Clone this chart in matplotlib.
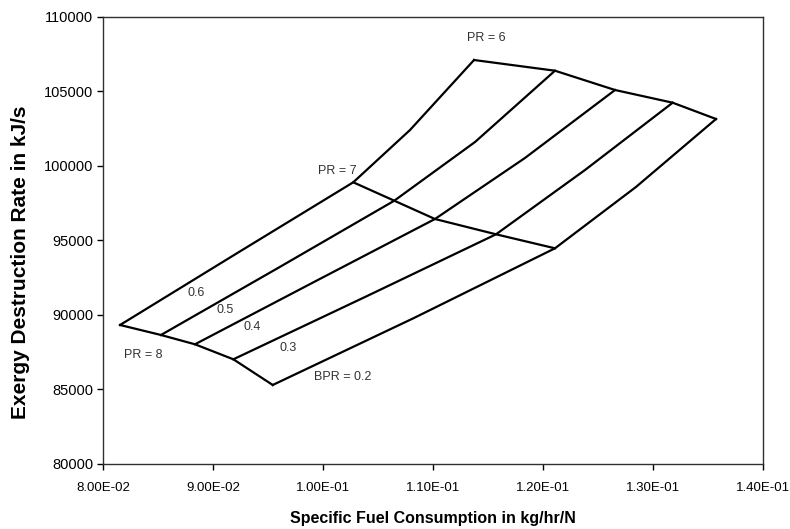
import matplotlib
matplotlib.use("Agg")
import matplotlib.pyplot as plt
from matplotlib.ticker import FuncFormatter, MultipleLocator

plt.rcParams['font.family'] = ['Liberation Sans', 'DejaVu Sans']

# Carpet plot: specific fuel consumption vs exergy destruction rate
bpr_values = [0.6, 0.5, 0.4, 0.3, 0.2]
pr_values = [8, 7.5, 7, 6.5, 6]

# SFC (kg/hr/N) for each BPR, ordered by pr_values
sfc = {
    0.6: [0.08155, 0.09214, 0.10275, 0.10791, 0.11373],
    0.5: [0.08527, 0.09591, 0.10648, 0.11382, 0.12109],
    0.4: [0.08836, 0.09927, 0.11018, 0.11836, 0.12655],
    0.3: [0.09185, 0.10382, 0.11573, 0.12382, 0.13179],
    0.2: [0.09543, 0.10827, 0.12109, 0.12845, 0.13573],
}
# Exergy destruction rate (kJ/s) for each BPR, ordered by pr_values
exd = {
    0.6: [89328, 94127, 98905, 102415, 107112],
    0.5: [88657, 93154, 97670, 101609, 106394],
    0.4: [88033, 92248, 96442, 100536, 105099],
    0.3: [87026, 91207, 95415, 99730, 104247],
    0.2: [85302, 89798, 94475, 98589, 103153],
}
pr_lines = [8, 7, 6]

labels = ["0.6", "0.5", "0.4", "0.3", "BPR = 0.2", "PR = 8", "PR = 7", "PR = 6"]
label_x = [0.08845, 0.09109, 0.09352, 0.09685, 0.10179, 0.08366, 0.10134, 0.11488]
label_y = [91456, 90335, 89214, 87765, 85818, 87315, 99683, 108610]

fig = plt.figure(figsize=(7.9, 5.29), dpi=100)
ax = fig.add_axes([0.1304, 0.1229, 0.8354, 0.845])

lw = 1.6
for b in bpr_values:
    ax.plot(sfc[b], exd[b], color='black', lw=lw, solid_joinstyle='round')

for p in pr_lines:
    i = pr_values.index(p)
    ax.plot([sfc[b][i] for b in bpr_values], [exd[b][i] for b in bpr_values],
            color='black', lw=lw, solid_joinstyle='round')

for t, x, y in zip(labels, label_x, label_y):
    ax.text(x, y, t, ha='center', va='center', fontsize=9, color='#333333')

ax.set_xlim(0.08, 0.14)
ax.set_ylim(80000, 110000)
ax.xaxis.set_major_locator(MultipleLocator(0.01))
ax.yaxis.set_major_locator(MultipleLocator(5000))
ax.xaxis.set_major_formatter(FuncFormatter(lambda v, pos: f"{v:.2E}"))
ax.yaxis.set_major_formatter(FuncFormatter(lambda v, pos: f"{v:.0f}"))
ax.tick_params(direction='out', length=4, width=1, colors='black')
ax.tick_params(axis='x', labelsize=9.5, pad=9)
ax.tick_params(axis='y', labelsize=10.5, pad=3)

for s in ax.spines.values():
    s.set_color('#303030')
    s.set_linewidth(1)

ax.set_xlabel("Specific Fuel Consumption in kg/hr/N", fontsize=11.5, fontweight='bold', labelpad=12)
ax.set_ylabel("Exergy Destruction Rate in kJ/s", fontsize=15, fontweight='bold')
ax.yaxis.set_label_coords(-0.11, 0.452)

fig.savefig("out.png", dpi=100, facecolor='white')
